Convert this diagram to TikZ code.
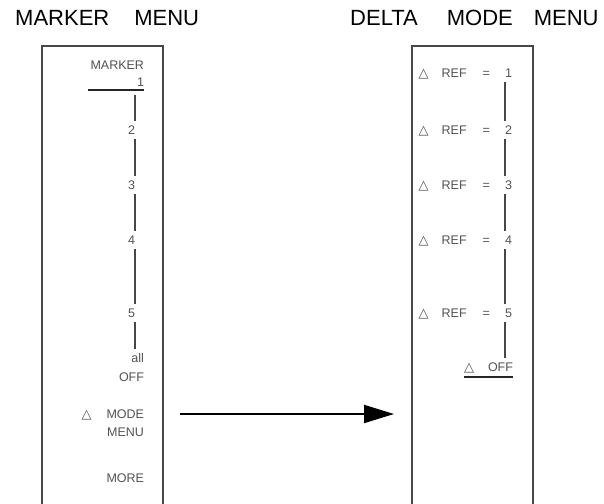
\documentclass[tikz,border=0pt]{standalone}
\usepackage{fontspec}
\setmainfont{Liberation Sans}
\newfontfamily\symbfont{DejaVu Sans}
\usetikzlibrary{positioning, arrows.meta, calc}

\newcommand{\tri}{{\symbfont\fontsize{13}{13}\selectfont △}}

\begin{document}
\begin{tikzpicture}[x=1pt, y=-1pt,
		title/.style={anchor=base west, inner sep=0pt, font=\fontsize{22}{22}\selectfont},
		menubox/.style={draw=black!72, line width=1.6pt, anchor=north west, inner sep=0pt, minimum width=121pt, minimum height=480pt},
		keytext/.style={inner sep=0pt, outer sep=0pt, text height=9pt, text depth=0pt, text=black!68, font=\fontsize{12.5}{14}\selectfont},
		chainline/.style={draw=black!72, line width=1.5pt, shorten <=4.5pt, shorten >=4.5pt},
		bar/.style={draw=black!85, line width=1.3pt},
		bigarrow/.style={-{Triangle[length=30pt,width=18pt]}, line width=2pt}]
		
		\useasboundingbox (0,0) rectangle (604,503);
		
		\node[title] (MarkerTitle) at (15,26) {MARKER\hspace{25pt}MENU};
		\node[title] (DeltaTitle) at (350,26) {DELTA\hspace{29pt}MODE\hspace{21pt}MENU};
		
		\node[menubox] (MarkerBox) at (41,45) {};
		\node[menubox] (DeltaBox) at (411,45) {};
		
		% marker menu keys
		\node[keytext, anchor=east] (MarkerHead) at (144,65) {MARKER};
		\node[keytext, anchor=east] (Key1) at (144,82) {1};
		\node[keytext, anchor=east] (Key2) at (135,130) {2};
		\node[keytext, anchor=east] (Key3) at (135,185) {3};
		\node[keytext, anchor=east] (Key4) at (135,240) {4};
		\node[keytext, anchor=east] (Key5) at (135,313) {5};
		\node[keytext, anchor=east] (AllKey) at (144,358) {all};
		\node[keytext, anchor=east] (OffKey) at (144,377) {OFF};
		\node[keytext, anchor=east] (ModeKey) at (144,414) {\tri\hspace{15pt}MODE};
		\node[keytext, anchor=east] (MenuKey) at (144,432) {MENU};
		\node[keytext, anchor=east] (MoreKey) at (144,478) {MORE};
		
		\coordinate (MarkerBar) at ([yshift=-3.5pt]Key1.south east);
		\draw[bar] (MarkerBar) -- ++(-56,0);
		
		\draw[chainline] (Key2.north east |- MarkerBar) -- (Key2.north east);
		\draw[chainline] (Key2.south east) -- (Key3.north east);
		\draw[chainline] (Key3.south east) -- (Key4.north east);
		\draw[chainline] (Key4.south east) -- (Key5.north east);
		\draw[chainline] (Key5.south east) -- (Key5.south east |- AllKey.north);
		
		% delta mode menu keys
		\foreach \i/\y in {1/73, 2/130, 3/185, 4/240, 5/313} {
			\node[keytext, anchor=east] (RefLabel\i) at (490,\y) {\tri\hspace{13pt}REF\hspace{16pt}=};
			\node[keytext, anchor=west] (Ref\i) at (505,\y) {\i};
		}
		\node[keytext, anchor=east] (DeltaOff) at (513,367) {\tri\hspace{14pt}OFF};
		\draw[bar] ([yshift=-5.5pt]DeltaOff.south west) -- ([yshift=-5.5pt]DeltaOff.south east);
		
		\draw[chainline] (Ref1.south west) -- (Ref2.north west);
		\draw[chainline] (Ref2.south west) -- (Ref3.north west);
		\draw[chainline] (Ref3.south west) -- (Ref4.north west);
		\draw[chainline] (Ref4.south west) -- (Ref5.north west);
		\draw[chainline] (Ref5.south west) -- (Ref5.south west |- DeltaOff.north);
		
		\draw[bigarrow, shorten <=36pt, shorten >=17pt] (ModeKey.east) -- (ModeKey.east -| DeltaBox.west);
		
	\end{tikzpicture}
\end{document}
